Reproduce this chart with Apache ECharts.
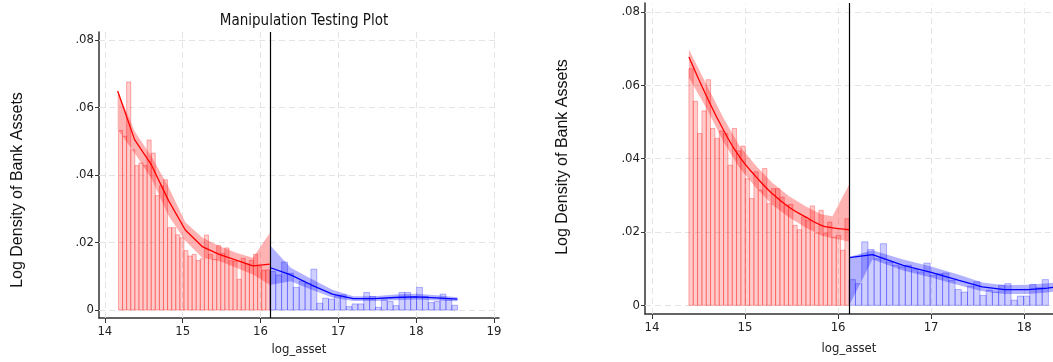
<!DOCTYPE html>
<html>
<head>
<meta charset="utf-8">
<script src="https://cdn.jsdelivr.net/npm/echarts@6/dist/echarts.min.js"></script>
<style>
html, body { margin: 0; padding: 0; background: #fff; }
#main { width: 1053px; height: 362px; }
</style>
</head>
<body>
<div id="main"></div>
<script>
var cutoff = 16.12;
var xTicks = [14, 15, 16, 17, 18, 19];
var xTicksRight = [14, 15, 16, 17, 18];
var yTicks = [0, 0.02, 0.04, 0.06, 0.08];

// left panel: histogram bins (start, width, heights)
var leftRedStart = 14.165, leftRedWidth = 0.05257;
var leftRedHist = [0.0532, 0.0515, 0.0676, 0.0475, 0.0428, 0.0436, 0.0428, 0.0504, 0.0465, 0.0339,
  0.0368, 0.0386, 0.0244, 0.0244, 0.0223, 0.0214, 0.0176, 0.0160, 0.0165, 0.0147,
  0.0152, 0.0222, 0.0165, 0.0150, 0.0191, 0.0168, 0.0184, 0.0146, 0.0145, 0.0091,
  0.0153, 0.0136, 0.0147, 0.0165, 0.0129, 0.0118, 0.0119];
var leftBlueWidth = 0.0754;
var leftBlueHist = [0.0114, 0.0104, 0.0142, 0.0109, 0.0067, 0.0086, 0.0079, 0.0121, 0.0020, 0.0035,
  0.0032, 0.0042, 0.0045, 0.0010, 0.0018, 0.0018, 0.0052, 0.0040, 0.0008, 0.0030,
  0.0025, 0.0013, 0.0052, 0.0052, 0.0040, 0.0067, 0.0040, 0.0022, 0.0025, 0.0047,
  0.0030, 0.0014];

// left panel: density fits with confidence bands
var leftRedX = [14.165, 14.382, 14.599, 14.817, 15.034, 15.251, 15.469, 15.686, 15.903, 16.12];
var leftRedFit = [0.0649, 0.0505, 0.0430, 0.0325, 0.0237, 0.0188, 0.0165, 0.0148, 0.0131, 0.0136];
var leftRedLo = [0.0535, 0.0465, 0.0390, 0.0280, 0.0205, 0.0155, 0.0145, 0.0125, 0.0105, 0.0074];
var leftRedHi = [0.0650, 0.0530, 0.0455, 0.0365, 0.0260, 0.0215, 0.0190, 0.0170, 0.0155, 0.0228];
var leftBlueX = [16.12, 16.388, 16.656, 16.923, 17.191, 17.459, 17.727, 17.994, 18.262, 18.53];
var leftBlueFit = [0.0126, 0.0104, 0.0074, 0.0047, 0.0034, 0.0034, 0.0037, 0.0039, 0.0036, 0.0032];
var leftBlueLo = [0.0074, 0.0085, 0.0060, 0.0037, 0.0027, 0.0027, 0.0029, 0.0031, 0.0028, 0.0026];
var leftBlueHi = [0.0193, 0.0125, 0.0092, 0.0060, 0.0041, 0.0041, 0.0046, 0.0048, 0.0044, 0.0038];

// right panel
var rightRedStart = 14.397, rightRedWidth = 0.04657;
var rightRedHist = [0.0645, 0.0556, 0.0468, 0.0530, 0.0615, 0.0482, 0.0455, 0.0475, 0.0468, 0.0382,
  0.0482, 0.0421, 0.0434, 0.0345, 0.0291, 0.0364, 0.0314, 0.0373, 0.0277, 0.0318,
  0.0318, 0.0295, 0.0273, 0.0275, 0.0218, 0.0206, 0.0241, 0.0232, 0.0271, 0.0197,
  0.0259, 0.0197, 0.0227, 0.0185, 0.0191, 0.0150, 0.0236];
var rightBlueWidth = 0.0669;
var rightBlueHist = [0.0070, 0.0059, 0.0173, 0.0152, 0.0127, 0.0168, 0.0118, 0.0109, 0.0105, 0.0109,
  0.0097, 0.0091, 0.0115, 0.0082, 0.0086, 0.0088, 0.0068, 0.0043, 0.0036, 0.0052,
  0.0064, 0.0027, 0.0041, 0.0036, 0.0055, 0.0059, 0.0014, 0.0025, 0.0025, 0.0057,
  0.0048, 0.0070];

var rightRedX = [14.397, 14.59, 14.77, 14.94, 15.12, 15.29, 15.47, 15.65, 15.82, 15.94, 16.0, 16.12];
var rightRedFit = [0.0677, 0.0568, 0.0477, 0.0405, 0.0350, 0.0305, 0.0268, 0.0241, 0.0218, 0.0211, 0.0209, 0.0206];
var rightRedLo = [0.0620, 0.0535, 0.0445, 0.0375, 0.0320, 0.0275, 0.0240, 0.0212, 0.0190, 0.0183, 0.0180, 0.0173];
var rightRedHi = [0.0697, 0.0600, 0.0510, 0.0435, 0.0380, 0.0335, 0.0298, 0.0270, 0.0248, 0.0243, 0.0272, 0.0330];
var rightBlueX = [16.12, 16.37, 16.70, 17.01, 17.30, 17.55, 17.79, 18.04, 18.25, 18.32];
var rightBlueFit = [0.0130, 0.0138, 0.0109, 0.0089, 0.0068, 0.0050, 0.0043, 0.0043, 0.0047, 0.0049];
var rightBlueLo = [0.0000, 0.0125, 0.0095, 0.0075, 0.0055, 0.0038, 0.0031, 0.0031, 0.0035, 0.0037];
var rightBlueHi = [0.0132, 0.0150, 0.0125, 0.0105, 0.0083, 0.0062, 0.0055, 0.0056, 0.0060, 0.0062];

var narrow = "'Liberation Sans Narrow', 'DejaVu Sans Condensed', 'Arial Narrow', sans-serif";
var RED = '#ff0000', BLUE = '#0000ff';

function bins(start, width, heights) {
    var out = [];
    for (var i = 0; i < heights.length; i++) {
        out.push([start + i * width, start + (i + 1) * width, heights[i]]);
    }
    return out;
}
function binsBefore(end, width, heights) {
    return bins(end - heights.length * width, width, heights);
}
function pairs(xs, ys) {
    return xs.map(function (x, i) { return [x, ys[i]]; });
}

function histSeries(idx, data, fill, stroke) {
    return {
        type: 'custom', xAxisIndex: idx, yAxisIndex: idx, z: 2, silent: true,
        encode: { x: [0, 1], y: 2 },
        data: data,
        renderItem: function (params, api) {
            var p0 = api.coord([api.value(0), api.value(2)]);
            var p1 = api.coord([api.value(1), 0]);
            return {
                type: 'rect',
                shape: { x: p0[0], y: p0[1], width: p1[0] - p0[0], height: p1[1] - p0[1] },
                style: { fill: fill, stroke: stroke, lineWidth: 1 }
            };
        }
    };
}

function bandSeries(idx, xs, lo, hi, fill) {
    return {
        type: 'custom', xAxisIndex: idx, yAxisIndex: idx, z: 3, silent: true,
        encode: { x: 0, y: [1, 2] },
        data: xs.map(function (x, i) { return [x, lo[i], hi[i]]; }),
        renderItem: function (params, api) {
            if (params.dataIndex !== 0) return;
            var pts = [];
            for (var i = 0; i < xs.length; i++) pts.push(api.coord([xs[i], hi[i]]));
            for (var j = xs.length - 1; j >= 0; j--) pts.push(api.coord([xs[j], lo[j]]));
            return { type: 'polygon', shape: { points: pts }, style: { fill: fill } };
        }
    };
}

function fitSeries(idx, xs, ys, color, smooth, marks) {
    var s = {
        type: 'line', xAxisIndex: idx, yAxisIndex: idx, z: 4, silent: true,
        showSymbol: false, symbol: 'none', smooth: smooth,
        data: pairs(xs, ys),
        lineStyle: { color: color, width: 1.3 }
    };
    if (marks) s.markLine = marks;
    return s;
}

function gridMarks(xt) {
    var d = [];
    xt.forEach(function (v) { d.push({ xAxis: v }); });
    yTicks.forEach(function (v) { d.push({ yAxis: v }); });
    return {
        silent: true, symbol: 'none', z: 1, animation: false,
        label: { show: false },
        lineStyle: { color: '#e4e4e4', type: [6, 4], width: 1 },
        data: d
    };
}
function cutMarks() {
    return {
        silent: true, symbol: 'none', z: 6, animation: false,
        label: { show: false },
        lineStyle: { color: '#000', type: 'solid', width: 1.2 },
        data: [{ xAxis: cutoff }]
    };
}

function yFmt(v) {
    return v === 0 ? '0' : v.toFixed(2).replace(/^0/, '');
}

function xAxisCfg(idx, max, ticks, gap) {
    return {
        type: 'value', gridIndex: idx, min: 13.925, max: max,
        name: 'log_asset', nameLocation: 'middle', nameGap: gap,
        nameTextStyle: { fontFamily: narrow, fontSize: 13, color: '#222' },
        splitLine: { show: false },
        axisLine: { onZero: false, lineStyle: { color: '#333', width: 1.5 } },
        axisTick: { customValues: ticks, length: 5, lineStyle: { color: '#333' } },
        axisLabel: { customValues: ticks, fontFamily: narrow, fontSize: 13, color: '#222', margin: 7 }
    };
}
function yAxisCfg(idx) {
    return {
        type: 'value', gridIndex: idx, min: -0.00237, max: 0.0824,
        splitLine: { show: false },
        axisLine: { show: true, onZero: false, lineStyle: { color: '#333', width: 1.5 } },
        axisTick: { show: true, customValues: yTicks, length: 4, lineStyle: { color: '#333' } },
        axisLabel: { customValues: yTicks, formatter: yFmt, fontFamily: narrow, fontSize: 13, color: '#222', margin: 5 }
    };
}

var chart = echarts.init(document.getElementById('main'), null, { renderer: 'canvas' });

var option = {
    animation: false,
    backgroundColor: '#fff',
    title: {
        text: 'Manipulation Testing Plot', left: 299, top: 9, textAlign: 'center',
        textStyle: { fontFamily: narrow, fontSize: 15, fontWeight: 'normal', color: '#111' }
    },
    graphic: [
        { type: 'text', x: 18, y: 190, rotation: Math.PI / 2,
          style: { text: 'Log Density of Bank Assets', fontFamily: 'Liberation Sans, Arial, sans-serif', fontSize: 16,
                   fill: '#111', align: 'center', verticalAlign: 'middle' } },
        { type: 'text', x: 563, y: 157, rotation: Math.PI / 2,
          style: { text: 'Log Density of Bank Assets', fontFamily: 'Liberation Sans, Arial, sans-serif', fontSize: 16,
                   fill: '#111', align: 'center', verticalAlign: 'middle' } }
    ],
    grid: [
        { left: 99, top: 32, width: 400, height: 286 },
        { left: 645, top: 3, width: 414, height: 311 }
    ],
    xAxis: [xAxisCfg(0, 19.064, xTicks, 25), xAxisCfg(1, 18.31, xTicksRight, 28)],
    yAxis: [yAxisCfg(0), yAxisCfg(1)],
    series: [
        histSeries(0, binsBefore(cutoff, leftRedWidth, leftRedHist), 'rgba(255,0,0,0.2)', 'rgba(255,0,0,0.3)'),
        histSeries(0, bins(cutoff, leftBlueWidth, leftBlueHist), 'rgba(0,0,255,0.19)', 'rgba(0,0,255,0.28)'),
        bandSeries(0, leftRedX, leftRedLo, leftRedHi, 'rgba(255,0,0,0.3)'),
        bandSeries(0, leftBlueX, leftBlueLo, leftBlueHi, 'rgba(0,0,255,0.3)'),
        fitSeries(0, leftRedX, leftRedFit, RED, false, gridMarks(xTicks)),
        fitSeries(0, leftBlueX, leftBlueFit, BLUE, false, cutMarks()),

        histSeries(1, binsBefore(cutoff, rightRedWidth, rightRedHist), 'rgba(255,0,0,0.2)', 'rgba(255,0,0,0.3)'),
        histSeries(1, bins(cutoff, rightBlueWidth, rightBlueHist), 'rgba(0,0,255,0.19)', 'rgba(0,0,255,0.28)'),
        bandSeries(1, rightRedX, rightRedLo, rightRedHi, 'rgba(255,0,0,0.3)'),
        bandSeries(1, rightBlueX, rightBlueLo, rightBlueHi, 'rgba(0,0,255,0.3)'),
        fitSeries(1, rightRedX, rightRedFit, RED, true, gridMarks(xTicksRight.concat([19]))),
        fitSeries(1, rightBlueX, rightBlueFit, BLUE, false, cutMarks())
    ]
};

chart.setOption(option);
</script>
</body>
</html>
